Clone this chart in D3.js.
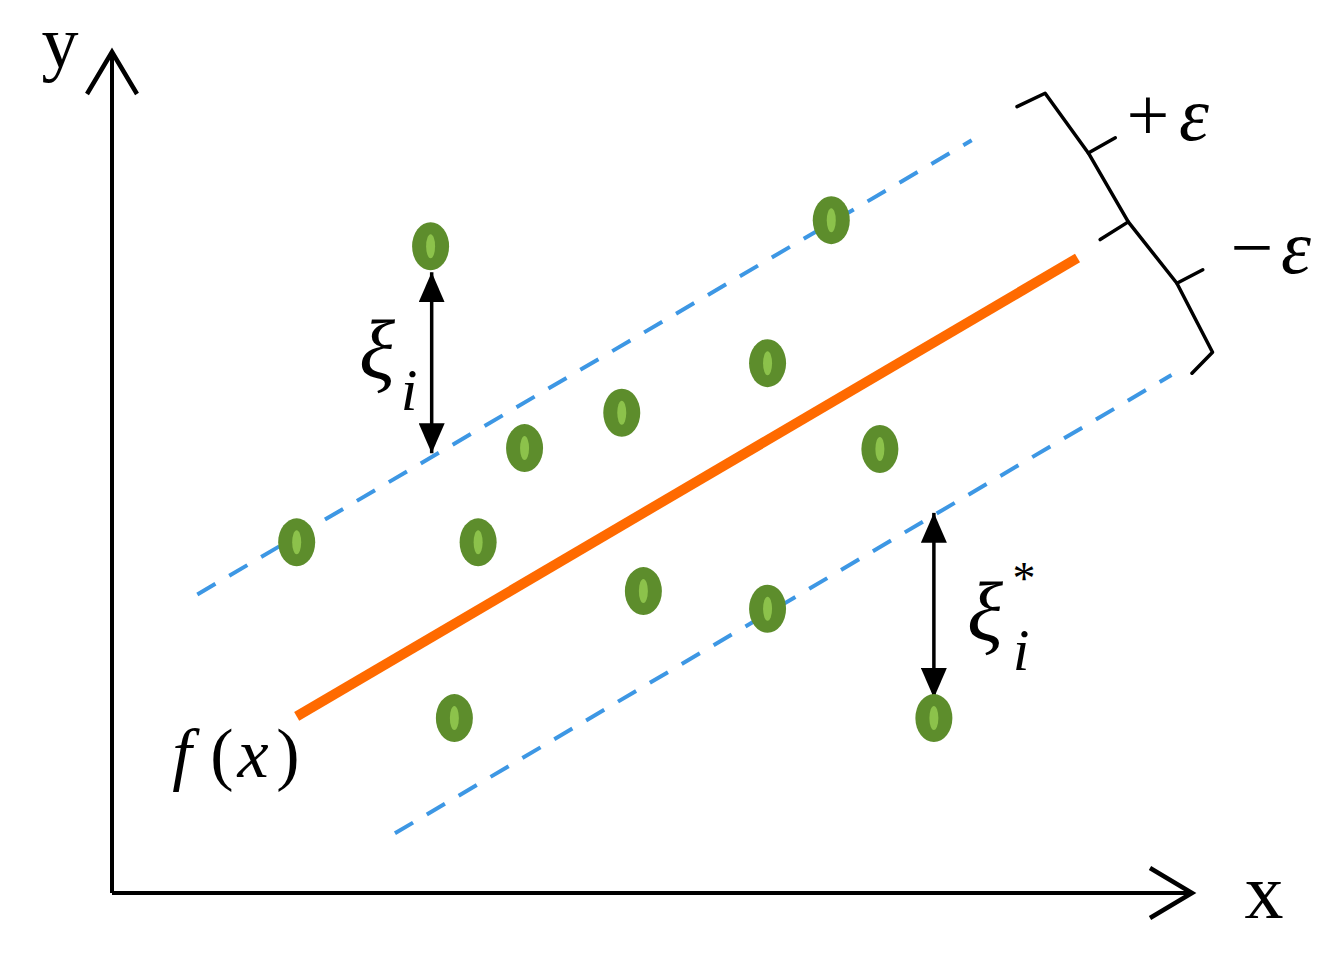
<!DOCTYPE html>
<html>
<head>
<meta charset="utf-8">
<script src="https://cdn.jsdelivr.net/npm/d3@7"></script>
<style>
  html, body { margin: 0; padding: 0; background: #ffffff; }
  svg { display: block; }
  text { font-family: "Liberation Serif", "DejaVu Serif", serif; fill: #000; }
</style>
</head>
<body>
<svg id="chart" width="1344" height="960"></svg>
<script>
// ---- data (abstract units, axes run 0..100) ----
const pointsX = [29.5, 66.6, 60.7, 47.2, 38.2, 71.1, 17.1, 33.9, 49.2, 60.7, 31.7, 76.1];
const pointsY = [76.9, 80.0, 63.0, 57.1, 52.9, 52.8, 41.7, 41.7, 35.9, 33.8, 20.8, 20.8];

const regX = [17.1, 89.4];
const regY = [21.0, 75.5];
const upperX = [7.9, 79.6];
const upperY = [35.5, 89.5];
const lowerX = [26.2, 98.1];
const lowerY = [7.1, 61.6];

const xiX = [29.6, 29.6];
const xiY = [52.3, 73.8];
const xiStarX = [76.1, 76.1];
const xiStarY = [45.2, 23.2];

const axisXs = [0, 100];
const axisYs = [0, 100];

// brace annotation (+epsilon / -epsilon)
const braceUpperX = [83.8, 86.4, 90.4, 94.1, 91.5];
const braceUpperY = [93.5, 95.1, 88.0, 79.8, 77.7];
const braceUpperTipX = [90.4, 92.9];
const braceUpperTipY = [88.0, 89.8];
const braceLowerX = [94.1, 98.6, 101.9, 100.0];
const braceLowerY = [79.8, 72.5, 64.3, 61.8];
const braceLowerTipX = [98.6, 101.0];
const braceLowerTipY = [72.5, 74.1];

// ---- scales ----
const svg = d3.select("#chart");
const x = d3.scaleLinear().domain([0, 100]).range([112, 1192]);
const y = d3.scaleLinear().domain([0, 100]).range([893, 52]);

const line = d3.line().x(d => x(d[0])).y(d => y(d[1]));
const zip = (a, b) => a.map((v, i) => [v, b[i]]);

// markers
const defs = svg.append("defs");
defs.append("marker")
  .attr("id", "head")
  .attr("markerUnits", "userSpaceOnUse")
  .attr("viewBox", "0 0 30 26")
  .attr("refX", 30).attr("refY", 13)
  .attr("markerWidth", 30).attr("markerHeight", 26)
  .attr("orient", "auto-start-reverse")
  .append("path").attr("d", "M0,0 L30,13 L0,26 Z").attr("fill", "#000");

// ---- axes ----
svg.append("path")
  .attr("d", line([[axisXs[0], 0], [axisXs[1], 0]]))
  .attr("stroke", "#000").attr("stroke-width", 4).attr("fill", "none");
svg.append("path")
  .attr("d", line([[0, axisYs[0]], [0, axisYs[1]]]))
  .attr("stroke", "#000").attr("stroke-width", 4).attr("fill", "none");

// chevron arrow heads
const xt = x(axisXs[1]), yt = y(0);
svg.append("path")
  .attr("d", `M${xt - 42},${yt - 25} L${xt},${yt} L${xt - 42},${yt + 25}`)
  .attr("stroke", "#000").attr("stroke-width", 4.5).attr("fill", "none")
  .attr("stroke-linejoin", "miter");
const xt2 = x(0), yt2 = y(axisYs[1]);
svg.append("path")
  .attr("d", `M${xt2 - 25},${yt2 + 42} L${xt2},${yt2} L${xt2 + 25},${yt2 + 42}`)
  .attr("stroke", "#000").attr("stroke-width", 4.5).attr("fill", "none")
  .attr("stroke-linejoin", "miter");

svg.append("text").attr("x", xt + 72).attr("y", yt + 25)
  .attr("text-anchor", "middle").attr("font-size", 78).text("x");
svg.append("text").attr("x", xt2 - 52).attr("y", yt2 + 15)
  .attr("text-anchor", "middle").attr("font-size", 74).text("y");

// ---- epsilon tube (dashed) ----
[zip(upperX, upperY), zip(lowerX, lowerY)].forEach(pts => {
  svg.append("path")
    .attr("d", line(pts))
    .attr("stroke", "#3d97e4").attr("stroke-width", 4)
    .attr("stroke-dasharray", "21,16").attr("fill", "none");
});

// ---- regression line ----
svg.append("path")
  .attr("d", line(zip(regX, regY)))
  .attr("stroke", "#ff6a00").attr("stroke-width", 10).attr("fill", "none");

// ---- slack arrows ----
[zip(xiX, xiY), zip(xiStarX, xiStarY)].forEach(pts => {
  svg.append("path")
    .attr("d", line(pts))
    .attr("stroke", "#000").attr("stroke-width", 3.5).attr("fill", "none")
    .attr("marker-start", "url(#head)").attr("marker-end", "url(#head)");
});

// ---- points ----
const pts = zip(pointsX, pointsY);
const g = svg.append("g");
g.selectAll("ellipse.outer").data(pts).join("ellipse")
  .attr("class", "outer")
  .attr("cx", d => x(d[0])).attr("cy", d => y(d[1]))
  .attr("rx", 18.5).attr("ry", 24)
  .attr("fill", "#5d8d2c");
g.selectAll("ellipse.inner").data(pts).join("ellipse")
  .attr("class", "inner")
  .attr("cx", d => x(d[0])).attr("cy", d => y(d[1]))
  .attr("rx", 4.5).attr("ry", 12)
  .attr("fill", "#8cc24b");

// ---- braces ----
const braceStyle = sel => sel.attr("stroke", "#000").attr("stroke-width", 3.5)
  .attr("fill", "none").attr("stroke-linejoin", "round").attr("stroke-linecap", "round");
braceStyle(svg.append("path").attr("d", line(zip(braceUpperX, braceUpperY))));
braceStyle(svg.append("path").attr("d", line(zip(braceUpperTipX, braceUpperTipY))));
braceStyle(svg.append("path").attr("d", line(zip(braceLowerX, braceLowerY))));
braceStyle(svg.append("path").attr("d", line(zip(braceLowerTipX, braceLowerTipY))));

// ---- labels ----
const lab = (tx, ty, s, size, italic, anchor) =>
  svg.append("text").attr("x", tx).attr("y", ty)
    .attr("text-anchor", anchor || "middle")
    .attr("font-size", size)
    .attr("font-style", italic ? "italic" : "normal")
    .text(s);

// +epsilon, -epsilon
lab(1148, 140, "+", 76, false);
lab(1194, 140, "ε", 76, true);
lab(1252, 273, "−", 76, false);
lab(1296, 273, "ε", 76, true);

// xi_i
lab(377, 378, "ξ", 84, true);
lab(409, 410, "i", 60, true);
// xi*_i
lab(985, 640, "ξ", 84, true);
lab(1021, 670, "i", 60, true);
lab(1024, 594, "*", 46, false);

// f(x)
lab(182, 777, "f", 70, true);
lab(222, 777, "(", 70, false);
lab(253, 777, "x", 70, true);
lab(288, 777, ")", 70, false);
</script>
</body>
</html>
